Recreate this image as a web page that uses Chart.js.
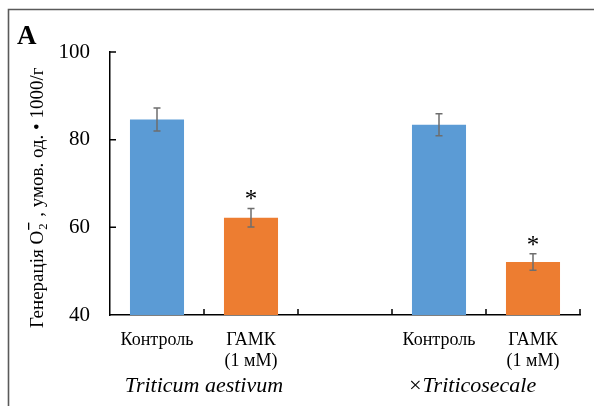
<!DOCTYPE html>
<html>
<head>
<meta charset="utf-8">
<script src="https://cdn.jsdelivr.net/npm/chart.js@4.4.1/dist/chart.umd.min.js"></script>
<style>
  html, body { margin: 0; padding: 0; background: #fff; }
  #wrap { width: 594px; height: 406px; }
</style>
</head>
<body>
<div id="wrap"><canvas id="ros" width="594" height="406"></canvas></div>
<script>
const categories = ['Контроль', ['ГАМК', '(1 мМ)'], '', 'Контроль', ['ГАМК', '(1 мМ)']];
const values = [84.6, 62.2, null, 83.4, 52.1];
const errors = [2.6, 2.1, null, 2.5, 1.9];
const significant = [false, true, false, false, true];
const barColors = ['#5B9BD5', '#ED7D31', '#ffffff', '#5B9BD5', '#ED7D31'];
const species = ['Triticum aestivum', '×Triticosecale'];
const speciesSlots = [[0, 1], [3, 4]];
const yMin = 40, yMax = 100, yStep = 20;

const serif = '"Liberation Serif", "Times New Roman", serif';

// error bars, stars, inward ticks, labels and frame
const extras = {
    id: 'extras',
    afterDraw(chart) {
        const c = chart.ctx;
        const x = chart.scales.x, y = chart.scales.y;
        const area = chart.chartArea;
        const meta = chart.getDatasetMeta(0);

        // frame (top + left only)
        c.save();
        c.strokeStyle = '#5a5a5a';
        c.lineWidth = 1.6;
        c.beginPath();
        c.moveTo(594, 9.5);
        c.lineTo(8.5, 9.5);
        c.lineTo(8.5, 406);
        c.stroke();

        // inward ticks
        c.strokeStyle = '#000';
        c.lineWidth = 1.5;
        c.beginPath();
        for (let v = yMin + yStep; v <= yMax; v += yStep) {
            const py = y.getPixelForValue(v);
            c.moveTo(area.left, py);
            c.lineTo(area.left + 6, py);
        }
        for (let i = 1; i <= categories.length; i++) {
            const px = (x.getPixelForValue(i - 1) + (i < categories.length ? x.getPixelForValue(i) : 2 * x.getPixelForValue(i - 1) - x.getPixelForValue(i - 2))) / 2;
            c.moveTo(px, area.bottom);
            c.lineTo(px, area.bottom - 6);
        }
        c.stroke();

        // error bars
        c.strokeStyle = '#6e6e6e';
        c.lineWidth = 1.5;
        values.forEach((v, i) => {
            if (v == null) return;
            const px = meta.data[i].x;
            const top = y.getPixelForValue(v + errors[i]);
            const bot = y.getPixelForValue(v - errors[i]);
            c.beginPath();
            c.moveTo(px, top); c.lineTo(px, bot);
            c.moveTo(px - 3.5, top); c.lineTo(px + 3.5, top);
            c.moveTo(px - 3.5, bot); c.lineTo(px + 3.5, bot);
            c.stroke();
            if (significant[i]) {
                c.fillStyle = '#000';
                c.font = '25px ' + serif;
                c.textAlign = 'center';
                c.textBaseline = 'alphabetic';
                c.fillText('*', px, top - 1);
            }
        });

        // species names
        c.fillStyle = '#000';
        c.font = 'italic 22px ' + serif;
        c.textAlign = 'center';
        c.textBaseline = 'alphabetic';
        species.forEach((s, k) => {
            const [a, b] = speciesSlots[k];
            const cx = (x.getPixelForValue(a) + x.getPixelForValue(b)) / 2 - (k === 1 ? 14 : 0);
            c.fillText(s, cx, area.bottom + 77);
        });

        // panel letter
        c.font = 'bold 27px ' + serif;
        c.textAlign = 'left';
        c.fillText('A', 17, 44);

        // y-axis title with O2 subscript / superscript
        c.translate(43, area.bottom + 13);
        c.rotate(-Math.PI / 2);
        c.textAlign = 'left';
        c.textBaseline = 'alphabetic';
        const big = '19px ' + serif, small = '12.5px ' + serif;
        let pos = 0;
        c.font = big;
        c.fillText('Генерація O', pos, 0);
        pos += c.measureText('Генерація O').width + 1;
        c.font = small;
        c.fillText('2', pos, 4);
        c.fillRect(pos, -15, c.measureText('2').width + 1, 1.3);
        pos += c.measureText('2').width + 2;
        c.font = big;
        c.fillText(' , умов. од. • 1000/г', pos, 0);
        c.restore();
    }
};

new Chart(document.getElementById('ros'), {
    type: 'bar',
    data: {
        labels: categories,
        datasets: [{
            data: values,
            backgroundColor: barColors,
            borderWidth: 0,
            categoryPercentage: 1,
            barPercentage: 0.575
        }]
    },
    options: {
        responsive: false,
        animation: false,
        layout: { padding: { left: 0, right: 14, top: 52, bottom: 0 } },
        plugins: { legend: { display: false }, tooltip: { enabled: false } },
        scales: {
            x: {
                afterFit: s => { s.height = 91; },
                grid: { display: false, drawTicks: false },
                border: { display: true, color: '#000', width: 1.5 },
                ticks: { color: '#000', padding: 14, font: { family: serif, size: 18 }, maxRotation: 0, autoSkip: false }
            },
            y: {
                min: yMin,
                max: yMax,
                afterFit: s => { s.width = 110; },
                grid: { display: false, drawTicks: false },
                border: { display: true, color: '#000', width: 1.5 },
                ticks: { stepSize: yStep, color: '#000', padding: 20, font: { family: serif, size: 21 } }
            }
        }
    },
    plugins: [extras]
});
</script>
</body>
</html>
